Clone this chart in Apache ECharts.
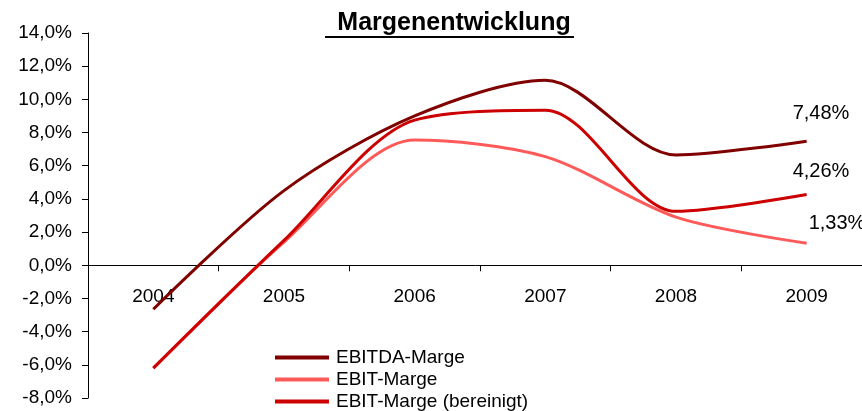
<!DOCTYPE html>
<html>
<head>
<meta charset="utf-8">
<script src="https://cdn.jsdelivr.net/npm/echarts@6/dist/echarts.min.js"></script>
<style>
html, body { margin: 0; padding: 0; background: #fff; }
#chart { width: 862px; height: 411px; }
</style>
</head>
<body>
<div id="chart"></div>
<script>
// Daten
const years = ['2004', '2005', '2006', '2007', '2008', '2009'];
const ebitdaMarge = [-2.65, 4.5, 9.0, 11.15, 6.65, 7.48];
const ebitMarge = [-6.2, 1.4, 7.55, 6.55, 2.9, 1.33];
const ebitBereinigt = [-6.2, 1.5, 8.75, 9.35, 3.25, 4.26];
const yTicks = { min: -8, max: 14, step: 2 };

const fontFamily = '"Liberation Sans", Arial, sans-serif';
const fmt = v => v.toFixed(1).replace('.', ',') + '%';
const fmt2 = v => v.toFixed(2).replace('.', ',') + '%';

function endLabel(offset) {
    return {
        show: true,
        offset: offset,
        formatter: p => fmt2(p.value),
        color: '#000',
        fontSize: 20,
        fontFamily: fontFamily
    };
}

let myChart = echarts.init(document.getElementById('chart'));
myChart.setOption({
    animation: false,
    backgroundColor: '#fff',
    title: {
        text: 'Margenentwicklung',
        left: 449,
        textAlign: 'center',
        top: 6,
        textStyle: {
            fontSize: 25,
            fontWeight: 'bold',
            color: '#000',
            fontFamily: fontFamily
        }
    },
    graphic: [{
        type: 'line',
        shape: { x1: 325, y1: 37, x2: 574, y2: 37 },
        style: { stroke: '#000', lineWidth: 2 }
    }],
    grid: { left: 88, right: -10, top: 33, bottom: 13, containLabel: false, outerBoundsMode: 'none' },
    legend: {
        orient: 'vertical',
        left: 270,
        top: 343,
        height: 120,
        itemWidth: 54,
        itemHeight: 4,
        itemGap: 3,
        icon: 'rect',
        textStyle: { fontSize: 19, color: '#000', fontFamily: fontFamily, padding: [0, 0, 0, 2] },
        data: ['EBITDA-Marge', 'EBIT-Marge', 'EBIT-Marge (bereinigt)']
    },
    xAxis: {
        type: 'category',
        data: years,
        boundaryGap: true,
        axisLine: { onZero: true, lineStyle: { color: '#000', width: 1 } },
        axisTick: { show: true, length: 6, lineStyle: { color: '#000' } },
        // Beschriftung sitzt unter der Nulllinie
        axisLabel: { margin: -111, fontSize: 19, color: '#000', fontFamily: fontFamily }
    },
    yAxis: {
        type: 'value',
        min: yTicks.min,
        max: yTicks.max,
        interval: yTicks.step,
        splitLine: { show: false },
        axisLine: { show: true, lineStyle: { color: '#000', width: 1 } },
        axisTick: { show: true, length: 6, lineStyle: { color: '#000' } },
        axisLabel: { margin: 16, fontSize: 19, color: '#000', fontFamily: fontFamily, formatter: fmt }
    },
    series: [
        {
            name: 'EBITDA-Marge',
            type: 'line',
            smooth: 0.3,
            symbol: 'none',
            lineStyle: { color: '#800000', width: 3 },
            itemStyle: { color: '#800000' },
            endLabel: endLabel([-22, -28]),
            data: ebitdaMarge
        },
        {
            name: 'EBIT-Marge',
            type: 'line',
            smooth: 0.3,
            symbol: 'none',
            lineStyle: { color: '#FF5A5A', width: 3 },
            itemStyle: { color: '#FF5A5A' },
            endLabel: endLabel([-6, -20]),
            data: ebitMarge
        },
        {
            name: 'EBIT-Marge (bereinigt)',
            type: 'line',
            smooth: 0.3,
            symbol: 'none',
            lineStyle: { color: '#CC0000', width: 3 },
            itemStyle: { color: '#CC0000' },
            endLabel: endLabel([-22, -23]),
            data: ebitBereinigt
        }
    ]
});
</script>
</body>
</html>
